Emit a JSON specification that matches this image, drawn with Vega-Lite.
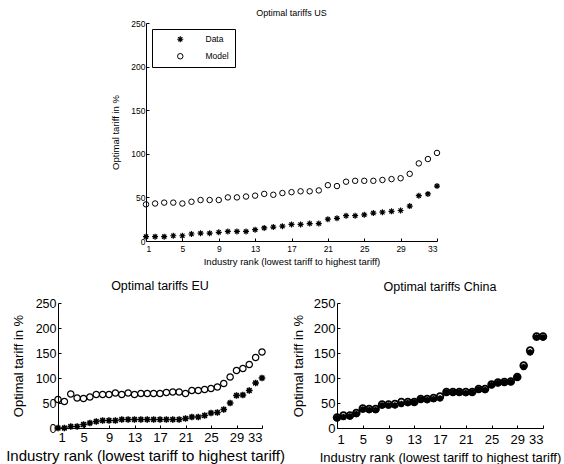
{
  "$schema": "https://vega.github.io/schema/vega-lite/v6.json",
  "padding": {"left": 5, "top": 9, "right": 2, "bottom": 0},
  "background": "white",
  "config": {
    "font": "Liberation Sans",
    "view": {"stroke": null},
    "axis": {"grid": false, "domainColor": "black", "tickColor": "black", "labelColor": "black", "titleColor": "black", "titleFontWeight": "normal", "labelFont": "Liberation Sans", "titleFont": "Liberation Sans", "domainWidth": 1, "tickWidth": 1},
    "title": {"fontWeight": "normal", "color": "black", "font": "Liberation Sans"},
    "point": {"color": "black", "filled": false}
  },
  "datasets": {
    "us": [
      {"rank":1,"series":"Model","tariff":42},{"rank":2,"series":"Model","tariff":43},{"rank":3,"series":"Model","tariff":44},{"rank":4,"series":"Model","tariff":44},{"rank":5,"series":"Model","tariff":43},{"rank":6,"series":"Model","tariff":45},{"rank":7,"series":"Model","tariff":47},{"rank":8,"series":"Model","tariff":47},{"rank":9,"series":"Model","tariff":47},{"rank":10,"series":"Model","tariff":50},{"rank":11,"series":"Model","tariff":50},{"rank":12,"series":"Model","tariff":51},{"rank":13,"series":"Model","tariff":52},{"rank":14,"series":"Model","tariff":54},{"rank":15,"series":"Model","tariff":53},{"rank":16,"series":"Model","tariff":55},{"rank":17,"series":"Model","tariff":56},{"rank":18,"series":"Model","tariff":57},{"rank":19,"series":"Model","tariff":57},{"rank":20,"series":"Model","tariff":58},{"rank":21,"series":"Model","tariff":64},{"rank":22,"series":"Model","tariff":63},{"rank":23,"series":"Model","tariff":68},{"rank":24,"series":"Model","tariff":69},{"rank":25,"series":"Model","tariff":69},{"rank":26,"series":"Model","tariff":69},{"rank":27,"series":"Model","tariff":70},{"rank":28,"series":"Model","tariff":71},{"rank":29,"series":"Model","tariff":72},{"rank":30,"series":"Model","tariff":77},{"rank":31,"series":"Model","tariff":89},{"rank":32,"series":"Model","tariff":94},{"rank":33,"series":"Model","tariff":101},
      {"rank":1,"series":"Data","tariff":5},{"rank":2,"series":"Data","tariff":5},{"rank":3,"series":"Data","tariff":5},{"rank":4,"series":"Data","tariff":6},{"rank":5,"series":"Data","tariff":6},{"rank":6,"series":"Data","tariff":8},{"rank":7,"series":"Data","tariff":9},{"rank":8,"series":"Data","tariff":9},{"rank":9,"series":"Data","tariff":10},{"rank":10,"series":"Data","tariff":11},{"rank":11,"series":"Data","tariff":11},{"rank":12,"series":"Data","tariff":11},{"rank":13,"series":"Data","tariff":13},{"rank":14,"series":"Data","tariff":15},{"rank":15,"series":"Data","tariff":16},{"rank":16,"series":"Data","tariff":17},{"rank":17,"series":"Data","tariff":19},{"rank":18,"series":"Data","tariff":19},{"rank":19,"series":"Data","tariff":20},{"rank":20,"series":"Data","tariff":20},{"rank":21,"series":"Data","tariff":25},{"rank":22,"series":"Data","tariff":26},{"rank":23,"series":"Data","tariff":29},{"rank":24,"series":"Data","tariff":29},{"rank":25,"series":"Data","tariff":30},{"rank":26,"series":"Data","tariff":32},{"rank":27,"series":"Data","tariff":33},{"rank":28,"series":"Data","tariff":34},{"rank":29,"series":"Data","tariff":35},{"rank":30,"series":"Data","tariff":40},{"rank":31,"series":"Data","tariff":52},{"rank":32,"series":"Data","tariff":54},{"rank":33,"series":"Data","tariff":63}
    ],
    "eu": [
      {"rank":1,"series":"Model","tariff":57},{"rank":2,"series":"Model","tariff":53},{"rank":3,"series":"Model","tariff":68},{"rank":4,"series":"Model","tariff":60},{"rank":5,"series":"Model","tariff":59},{"rank":6,"series":"Model","tariff":62},{"rank":7,"series":"Model","tariff":67},{"rank":8,"series":"Model","tariff":67},{"rank":9,"series":"Model","tariff":67},{"rank":10,"series":"Model","tariff":70},{"rank":11,"series":"Model","tariff":67},{"rank":12,"series":"Model","tariff":70},{"rank":13,"series":"Model","tariff":67},{"rank":14,"series":"Model","tariff":69},{"rank":15,"series":"Model","tariff":69},{"rank":16,"series":"Model","tariff":69},{"rank":17,"series":"Model","tariff":69},{"rank":18,"series":"Model","tariff":71},{"rank":19,"series":"Model","tariff":72},{"rank":20,"series":"Model","tariff":72},{"rank":21,"series":"Model","tariff":69},{"rank":22,"series":"Model","tariff":75},{"rank":23,"series":"Model","tariff":75},{"rank":24,"series":"Model","tariff":77},{"rank":25,"series":"Model","tariff":79},{"rank":26,"series":"Model","tariff":82},{"rank":27,"series":"Model","tariff":89},{"rank":28,"series":"Model","tariff":102},{"rank":29,"series":"Model","tariff":115},{"rank":30,"series":"Model","tariff":119},{"rank":31,"series":"Model","tariff":127},{"rank":32,"series":"Model","tariff":141},{"rank":33,"series":"Model","tariff":152},
      {"rank":1,"series":"Data","tariff":0},{"rank":2,"series":"Data","tariff":0},{"rank":3,"series":"Data","tariff":3},{"rank":4,"series":"Data","tariff":3},{"rank":5,"series":"Data","tariff":7},{"rank":6,"series":"Data","tariff":10},{"rank":7,"series":"Data","tariff":13},{"rank":8,"series":"Data","tariff":15},{"rank":9,"series":"Data","tariff":15},{"rank":10,"series":"Data","tariff":15},{"rank":11,"series":"Data","tariff":17},{"rank":12,"series":"Data","tariff":17},{"rank":13,"series":"Data","tariff":17},{"rank":14,"series":"Data","tariff":17},{"rank":15,"series":"Data","tariff":17},{"rank":16,"series":"Data","tariff":17},{"rank":17,"series":"Data","tariff":17},{"rank":18,"series":"Data","tariff":17},{"rank":19,"series":"Data","tariff":17},{"rank":20,"series":"Data","tariff":17},{"rank":21,"series":"Data","tariff":19},{"rank":22,"series":"Data","tariff":22},{"rank":23,"series":"Data","tariff":22},{"rank":24,"series":"Data","tariff":25},{"rank":25,"series":"Data","tariff":30},{"rank":26,"series":"Data","tariff":31},{"rank":27,"series":"Data","tariff":37},{"rank":28,"series":"Data","tariff":50},{"rank":29,"series":"Data","tariff":65},{"rank":30,"series":"Data","tariff":66},{"rank":31,"series":"Data","tariff":75},{"rank":32,"series":"Data","tariff":90},{"rank":33,"series":"Data","tariff":100}
    ],
    "cn": [
      {"rank":1,"series":"Model","tariff":21},{"rank":2,"series":"Model","tariff":25},{"rank":3,"series":"Model","tariff":25},{"rank":4,"series":"Model","tariff":30},{"rank":5,"series":"Model","tariff":39},{"rank":6,"series":"Model","tariff":38},{"rank":7,"series":"Model","tariff":38},{"rank":8,"series":"Model","tariff":47},{"rank":9,"series":"Model","tariff":47},{"rank":10,"series":"Model","tariff":48},{"rank":11,"series":"Model","tariff":52},{"rank":12,"series":"Model","tariff":52},{"rank":13,"series":"Model","tariff":52},{"rank":14,"series":"Model","tariff":58},{"rank":15,"series":"Model","tariff":58},{"rank":16,"series":"Model","tariff":60},{"rank":17,"series":"Model","tariff":63},{"rank":18,"series":"Model","tariff":72},{"rank":19,"series":"Model","tariff":72},{"rank":20,"series":"Model","tariff":72},{"rank":21,"series":"Model","tariff":72},{"rank":22,"series":"Model","tariff":72},{"rank":23,"series":"Model","tariff":78},{"rank":24,"series":"Model","tariff":78},{"rank":25,"series":"Model","tariff":87},{"rank":26,"series":"Model","tariff":91},{"rank":27,"series":"Model","tariff":92},{"rank":28,"series":"Model","tariff":93},{"rank":29,"series":"Model","tariff":102},{"rank":30,"series":"Model","tariff":125},{"rank":31,"series":"Model","tariff":155},{"rank":32,"series":"Model","tariff":183},{"rank":33,"series":"Model","tariff":183},
      {"rank":1,"series":"Data","tariff":20},{"rank":2,"series":"Data","tariff":22},{"rank":3,"series":"Data","tariff":23},{"rank":4,"series":"Data","tariff":28},{"rank":5,"series":"Data","tariff":37},{"rank":6,"series":"Data","tariff":36},{"rank":7,"series":"Data","tariff":36},{"rank":8,"series":"Data","tariff":45},{"rank":9,"series":"Data","tariff":45},{"rank":10,"series":"Data","tariff":45},{"rank":11,"series":"Data","tariff":48},{"rank":12,"series":"Data","tariff":50},{"rank":13,"series":"Data","tariff":51},{"rank":14,"series":"Data","tariff":57},{"rank":15,"series":"Data","tariff":56},{"rank":16,"series":"Data","tariff":58},{"rank":17,"series":"Data","tariff":59},{"rank":18,"series":"Data","tariff":71},{"rank":19,"series":"Data","tariff":71},{"rank":20,"series":"Data","tariff":71},{"rank":21,"series":"Data","tariff":70},{"rank":22,"series":"Data","tariff":71},{"rank":23,"series":"Data","tariff":77},{"rank":24,"series":"Data","tariff":76},{"rank":25,"series":"Data","tariff":86},{"rank":26,"series":"Data","tariff":90},{"rank":27,"series":"Data","tariff":91},{"rank":28,"series":"Data","tariff":92},{"rank":29,"series":"Data","tariff":102},{"rank":30,"series":"Data","tariff":122},{"rank":31,"series":"Data","tariff":151},{"rank":32,"series":"Data","tariff":181},{"rank":33,"series":"Data","tariff":181}
    ]
  },
  "vconcat": [
    {
      "hconcat": [
        {"width": 88, "height": 218, "data": {"values": []}, "mark": {"type": "point"}, "encoding": {}},
        {
          "width": 291, "height": 218,
          "title": {"text": "Optimal tariffs US", "fontSize": 9, "offset": 1},
          "data": {"name": "us"},
          "mark": {"type": "point", "filled": false, "color": "black", "opacity": 1},
          "encoding": {
            "x": {"field": "rank", "type": "quantitative", "scale": {"domain": [1, 33], "nice": false, "zero": false},
                  "axis": {"values": [1,5,9,13,17,21,25,29,33], "title": "Industry rank (lowest tariff to highest tariff)", "labelFontSize": 8.5, "titleFontSize": 9.5, "tickSize": -3, "labelPadding": 6, "titlePadding": 4}},
            "y": {"field": "tariff", "type": "quantitative", "scale": {"domain": [0, 250], "nice": false},
                  "axis": {"values": [0,50,100,150,200,250], "title": "Optimal tariff in %", "labelFontSize": 8.5, "titleFontSize": 9.5, "tickSize": -3, "labelPadding": 4, "titlePadding": 10}},
            "shape": {"field": "series", "type": "nominal",
                      "scale": {"domain": ["Data", "Model"], "range": ["M0,-1L0,1M-1,0L1,0M-0.7,-0.7L0.7,0.7M-0.7,0.7L0.7,-0.7", "circle"]},
                      "legend": {"title": null, "orient": "none", "legendX": 94, "legendY": 6, "strokeColor": "black", "padding": 6, "symbolOffset": 18, "labelOffset": 21, "labelFontSize": 8.5, "labelColor": "black", "symbolStrokeColor": "black", "rowPadding": 6, "fillColor": "white"}},
            "strokeWidth": {"field": "series", "type": "nominal", "scale": {"domain": ["Data", "Model"], "range": [1.2, 1]}},
            "size": {"field": "series", "type": "nominal", "scale": {"domain": ["Data", "Model"], "range": [36, 30]}}
          }
        }
      ],
      "spacing": 0,
      "bounds": "flush"
    },
    {
      "hconcat": [
        {
          "width": 204, "height": 125,
          "title": {"text": "Optimal tariffs EU", "fontSize": 12.5, "offset": 5},
          "data": {"name": "eu"},
          "mark": {"type": "point", "filled": false, "color": "black", "opacity": 1},
          "encoding": {
            "x": {"field": "rank", "type": "quantitative", "scale": {"domain": [1, 33], "nice": false, "zero": false},
                  "axis": {"values": [1,5,9,13,17,21,25,29,33], "title": "Industry rank (lowest tariff to highest tariff)", "labelFontSize": 13, "titleFontSize": 15, "tickSize": -3, "labelPadding": 6, "titlePadding": 4, "titleX": 87}},
            "y": {"field": "tariff", "type": "quantitative", "scale": {"domain": [0, 250], "nice": false},
                  "axis": {"values": [0,50,100,150,200,250], "title": "Optimal tariff in %", "labelFontSize": 12.5, "titleFontSize": 13, "tickSize": -3, "labelPadding": 5, "titlePadding": 10}},
            "shape": {"field": "series", "type": "nominal",
                      "scale": {"domain": ["Data", "Model"], "range": ["M0,-1L0,1M-1,0L1,0M-0.7,-0.7L0.7,0.7M-0.7,0.7L0.7,-0.7", "circle"]},
                      "legend": null},
            "strokeWidth": {"field": "series", "type": "nominal", "scale": {"domain": ["Data", "Model"], "range": [1.5, 1.2]}, "legend": null},
            "size": {"field": "series", "type": "nominal", "scale": {"domain": ["Data", "Model"], "range": [45, 40]}, "legend": null}
          }
        },
        {
          "width": 206, "height": 125,
          "title": {"text": "Optimal tariffs China", "fontSize": 12.5, "offset": 4},
          "data": {"name": "cn"},
          "mark": {"type": "point", "filled": false, "size": 45, "strokeWidth": 1.8, "color": "black", "opacity": 1},
          "encoding": {
            "x": {"field": "rank", "type": "quantitative", "scale": {"domain": [1, 33], "nice": false, "zero": false},
                  "axis": {"values": [1,5,9,13,17,21,25,29,33], "title": "Industry rank (lowest tariff to highest tariff)", "labelFontSize": 13, "titleFontSize": 13, "tickSize": -3, "labelPadding": 8, "titlePadding": 5}},
            "y": {"field": "tariff", "type": "quantitative", "scale": {"domain": [0, 250], "nice": false},
                  "axis": {"values": [0,50,100,150,200,250], "title": "Optimal tariff in %", "labelFontSize": 13, "titleFontSize": 13, "tickSize": -3, "labelPadding": 5, "titlePadding": 8}},
            "shape": {"field": "series", "type": "nominal",
                      "scale": {"domain": ["Data", "Model"], "range": ["M0,-1L0,1M-1,0L1,0M-0.7,-0.7L0.7,0.7M-0.7,0.7L0.7,-0.7", "circle"]},
                      "legend": null}
          }
        }
      ],
      "spacing": 75,
      "bounds": "flush",
      "resolve": {"scale": {"shape": "independent"}}
    }
  ],
  "spacing": 13,
  "resolve": {"scale": {"shape": "independent", "strokeWidth": "independent", "size": "independent"}, "legend": {"shape": "independent", "strokeWidth": "independent", "size": "independent"}}
}
